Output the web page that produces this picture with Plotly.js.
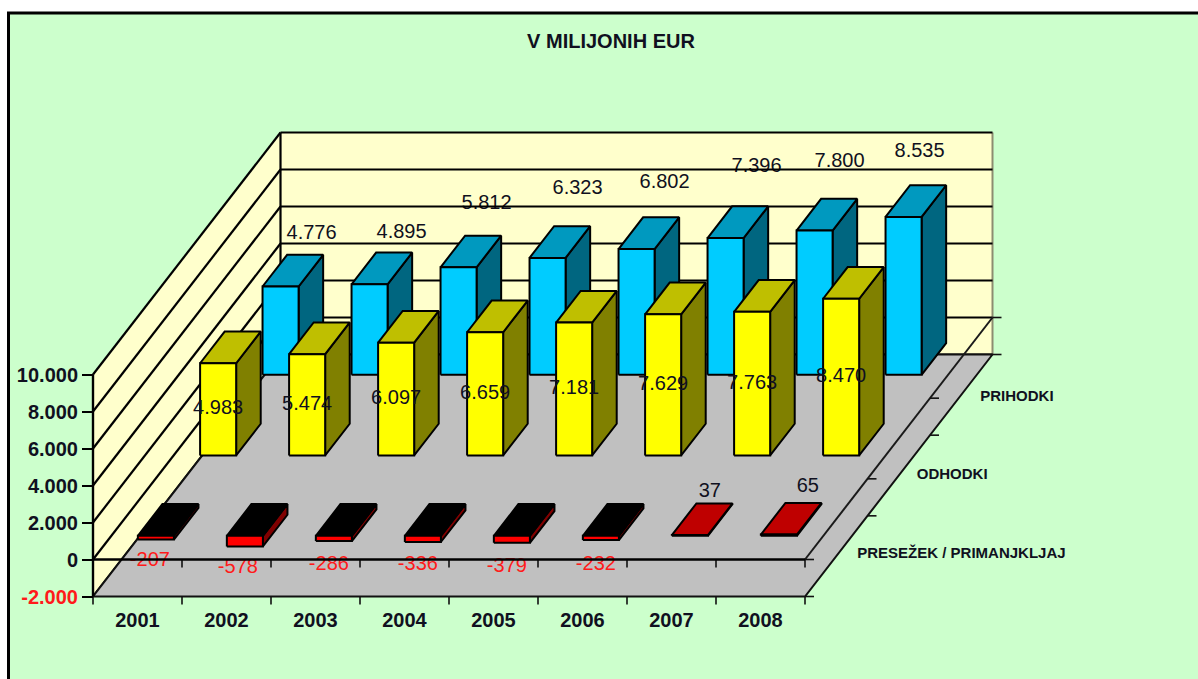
<!DOCTYPE html>
<html>
<head>
<meta charset="utf-8">
<script src="https://cdn.plot.ly/plotly-3.0.1.min.js"></script>
<style>html,body{margin:0;padding:0;background:#fff;overflow:hidden}#chart{width:1198px;height:679px}</style>
</head>
<body>
<div id="chart"></div>
<script>
// Budget figures in millions of EUR
const years = ['2001', '2002', '2003', '2004', '2005', '2006', '2007', '2008'];
const prihodki = [4776, 4895, 5812, 6323, 6802, 7396, 7800, 8535];
const odhodki = [4983, 5474, 6097, 6659, 7181, 7629, 7763, 8470];
const presezek = [-207, -578, -286, -336, -379, -232, 37, 65];
const seriesNames = ['PRESEŽEK / PRIMANJKLJAJ', 'ODHODKI', 'PRIHODKI'];
const valueTicks = [-2000, 0, 2000, 4000, 6000, 8000, 10000];
const valueTickLabels = ['-2.000', '0', '2.000', '4.000', '6.000', '8.000', '10.000'];

// Manual placement of the data labels, in pixels from the bar's front-top centre
const prihodkiShift = [[31, -53], [32, -51], [28, -63], [30, -69], [28, -66], [31, -71], [25, -69], [16, -65]];
const presezekShift = [[-6, 25], [-7, 32], [-5, 29], [-5, 29], [-5, 31], [-5, 29], [20, -44], [29, -49]];

const W = 1198, H = 679;
const X0 = 93, Y0 = 559.5;          // pixel position of category 0, value 0 on the front plane
const CAT_PX = 89, VAL_PX = 0.0185; // pixels per category, pixels per unit of value
const DEPTH_X = 187.5, DEPTH_Y = 242; // oblique shift from the front plane to the back wall
const VMIN = -2000, VMAX = 10000;
const BAR_W = 0.405, BAR_D = 0.131;
const FRONT = {presezek: 0.098, odhodki: 0.43, prihodki: 0.763}; // depth of each row's front face
const N = years.length;
const TEXT = '#101020';

// Oblique projection: (category, depth 0..1, value) -> axis coordinates
const pu = (c, t) => c + t * DEPTH_X / CAT_PX;
const pv = (v, t) => v + t * DEPTH_Y / VAL_PX;
const pxX = dx => dx / CAT_PX;
const pxY = dy => -dy / VAL_PX;

const traces = [];
function poly(corners, fill, lineColor, lineWidth) {
  traces.push({
    type: 'scatter', mode: 'lines', hoverinfo: 'skip', showlegend: false,
    x: corners.map(p => pu(p[0], p[1])),
    y: corners.map(p => pv(p[2], p[1])),
    fill: 'toself', fillcolor: fill,
    line: {color: lineColor, width: lineWidth === undefined ? 2 : lineWidth, simplify: false}
  });
}
function line(corners, color, width) {
  traces.push({
    type: 'scatter', mode: 'lines', hoverinfo: 'skip', showlegend: false,
    x: corners.map(p => pu(p[0], p[1])),
    y: corners.map(p => pv(p[2], p[1])),
    line: {color: color, width: width, simplify: false}
  });
}
function labels(xs, ys, texts, color, size, position, bold) {
  traces.push({
    type: 'scatter', mode: 'text', hoverinfo: 'skip', showlegend: false,
    x: xs, y: ys, text: texts, textposition: position || 'middle center', cliponaxis: false,
    textfont: {family: 'Liberation Sans, Arial, sans-serif', size: size, color: color,
               weight: bold ? 700 : 400}
  });
}
const fmt = v => {
  const s = String(Math.abs(v));
  const g = s.length > 3 ? s.slice(0, -3) + '.' + s.slice(-3) : s;
  return (v < 0 ? '-' : '') + g;
};

// Walls
const WALL = '#FFFFCC';
poly([[0, 0, VMIN], [0, 1, VMIN], [0, 1, VMAX], [0, 0, VMAX], [0, 0, VMIN]], WALL, 'rgba(0,0,0,0)', 0);
poly([[0, 1, VMIN], [N, 1, VMIN], [N, 1, VMAX], [0, 1, VMAX], [0, 1, VMIN]], WALL, 'rgba(0,0,0,0)', 0);
line([[N, 1, VMIN], [N, 1, VMAX]], '#8C8C70', 2);

// Revenue labels sit behind the wall gridlines
labels(
  prihodki.map((v, i) => pu(i + 0.5, FRONT.prihodki) + pxX(prihodkiShift[i][0])),
  prihodki.map((v, i) => pv(v, FRONT.prihodki) + pxY(prihodkiShift[i][1])),
  prihodki.map(fmt), TEXT, 20);

// Gridlines across both walls
valueTicks.forEach(v => {
  line([[0, 0, v], [0, 1, v]], '#000000', 2.2);
  line([[0, 1, v], [N, 1, v]], '#000000', 2.2);
});
line([[0, 1, VMIN], [0, 1, VMAX]], '#000000', 2.2);

// Floor
poly([[0, 0, VMIN], [N, 0, VMIN], [N, 1, VMIN], [0, 1, VMIN], [0, 0, VMIN]], '#C0C0C0', '#111111', 2);

// Surplus / deficit labels lie beneath the zero line
labels(
  presezek.map((v, i) => pu(i + 0.5, FRONT.presezek) + pxX(presezekShift[i][0])),
  presezek.map((v, i) => pv(0, FRONT.presezek) + pxY(presezekShift[i][1])),
  presezek.map(fmt),
  presezek.map(v => v < 0 ? '#FF1A1A' : TEXT), 20);

// Category axis plane at zero, one segment per year, with its tick marks
line([[N, 0, 0], [N, 1, 0]], '#1a1a1a', 2);
years.forEach((y, c) => {
  line([[c, 0, 0], [c + 1, 0, 0]], '#000000', 2.2);
});
for (let c = 0; c <= N; c++) {
  [VMIN, 0].forEach(v => {
    traces.push({
      type: 'scatter', mode: 'lines', hoverinfo: 'skip', showlegend: false,
      x: [pu(c, 0), pu(c, 0)], y: [pv(v, 0), pv(v, 0) + pxY(8)],
      line: {color: '#111111', width: 1.6}
    });
  });
}
// Depth axis ticks on both planes
[0, 1 / 3, 2 / 3, 1].forEach(t => {
  [VMIN, 0].forEach(v => {
    traces.push({
      type: 'scatter', mode: 'lines', hoverinfo: 'skip', showlegend: false,
      x: [pu(N, t), pu(N, t) + pxX(9)], y: [pv(v, t), pv(v, t)],
      line: {color: '#111111', width: 1.6}
    });
  });
});

// One box per year: front face, top face, right-hand side
function bars(values, t0, front, top, side, negTop) {
  const t1 = t0 + BAR_D;
  values.forEach((v, i) => {
    const a = i + 0.5 - BAR_W / 2, b = i + 0.5 + BAR_W / 2;
    const high = Math.max(v, 0), low = Math.min(v, 0);
    poly([[b, t0, low], [b, t1, low], [b, t1, high], [b, t0, high], [b, t0, low]], side, '#000000');
    poly([[a, t0, high], [b, t0, high], [b, t1, high], [a, t1, high], [a, t0, high]],
         v < 0 ? negTop : top, '#000000');
    poly([[a, t0, low], [b, t0, low], [b, t0, high], [a, t0, high], [a, t0, low]], front, '#000000');
  });
}
bars(prihodki, FRONT.prihodki, '#00CCFF', '#0099BF', '#006680', '#0099BF');
bars(odhodki, FRONT.odhodki, '#FFFF00', '#BFBF00', '#808000', '#BFBF00');
bars(presezek, FRONT.presezek, '#FF0000', '#BF0000', '#800000', '#000000');

// Expenditure labels at the middle of each front face
labels(
  odhodki.map((v, i) => pu(i + 0.5, FRONT.odhodki)),
  odhodki.map((v, i) => pv(v / 2, FRONT.odhodki)),
  odhodki.map(fmt), TEXT, 20);

// Series names along the depth axis
const depths = [1 / 6, 3 / 6, 5 / 6];
const nameGap = [21, 18, 19];
labels(
  depths.map((t, i) => pu(N, t) + pxX(nameGap[i])),
  depths.map((t, i) => pv(VMIN, t) + pxY(i === 0 ? -2 : (i === 1 ? 0 : 2))),
  seriesNames, TEXT, 15, 'middle right', true);

const layout = {
  width: W, height: H,
  margin: {l: 0, r: 0, t: 0, b: 0, pad: 0},
  paper_bgcolor: '#FFFFFF', plot_bgcolor: 'rgba(0,0,0,0)',
  showlegend: false,
  font: {family: 'Liberation Sans, Arial, sans-serif', color: TEXT},
  title: {
    text: '<b>V MILIJONIH EUR</b>', x: 611 / W, xanchor: 'center', y: 1 - 41 / H, yanchor: 'middle',
    font: {size: 20, color: TEXT}
  },
  xaxis: {
    range: [-X0 / CAT_PX, (W - X0) / CAT_PX], fixedrange: true,
    anchor: 'free', position: (H - 597) / H,
    showgrid: false, zeroline: false, showline: false,
    tickmode: 'array', tickvals: years.map((y, i) => i + 0.5), ticktext: years,
    ticks: 'outside', ticklen: 5, tickcolor: 'rgba(0,0,0,0)',
    tickfont: {size: 20, weight: 700, color: TEXT}
  },
  yaxis: {
    range: [(Y0 - H) / VAL_PX, Y0 / VAL_PX], fixedrange: true,
    anchor: 'free', position: X0 / W,
    showgrid: false, zeroline: false, showline: false,
    tickmode: 'array', tickvals: valueTicks,
    ticktext: valueTickLabels.map(s => s[0] === '-' ? '<span style="color:#FF1A1A">' + s + '</span>' : s),
    ticks: 'outside', ticklen: 11, tickwidth: 2, tickcolor: '#000000',
    tickfont: {size: 20, weight: 700, color: TEXT}
  },
  shapes: [
    // Chart frame, running off the right and bottom of the page
    {type: 'rect', xref: 'paper', yref: 'paper', layer: 'below',
     x0: 8.5 / W, x1: 1.05, y0: -0.05, y1: 1 - 13 / H,
     fillcolor: '#CCFFCC', line: {color: '#000000', width: 3}},
    // Value axis edge on the front plane
    {type: 'line', xref: 'x', yref: 'y', layer: 'above',
     x0: 0, x1: 0, y0: VMIN, y1: VMAX, line: {color: '#000000', width: 2.4}},
    // Category axis line at zero across the floor
    {type: 'line', xref: 'x', yref: 'y', layer: 'above',
     x0: 0, x1: N, y0: 1, y1: 1, line: {color: '#000000', width: 2.2}}
  ]
};

Plotly.newPlot('chart', traces, layout, {displayModeBar: false, staticPlot: true});
</script>
</body>
</html>
